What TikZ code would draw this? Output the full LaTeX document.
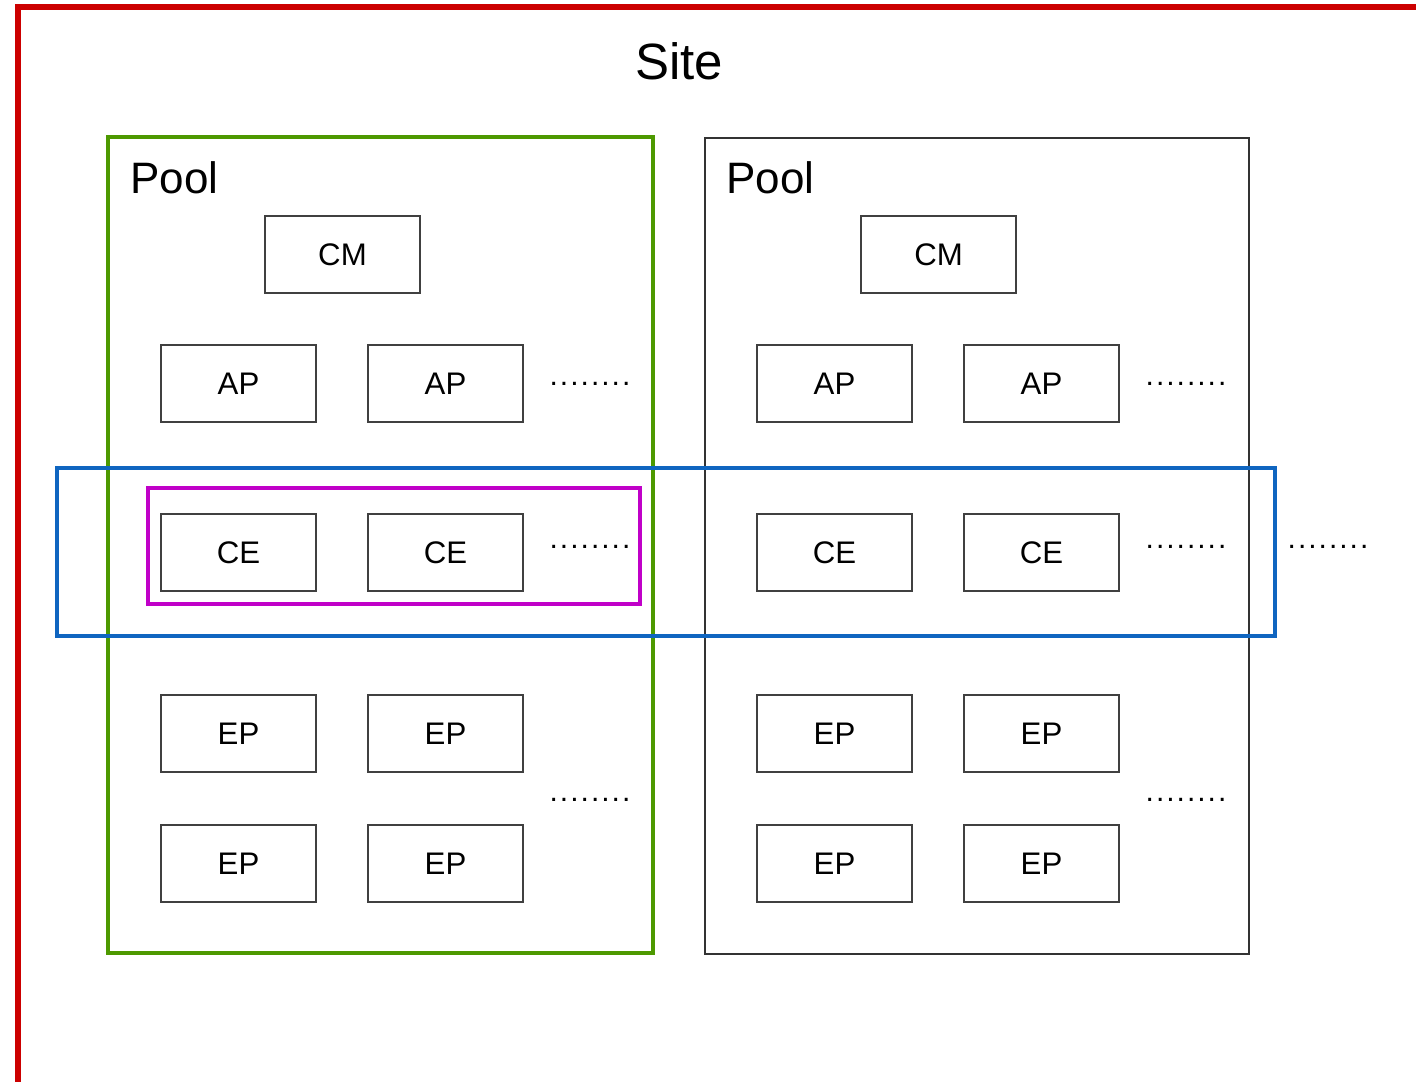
\documentclass[tikz,border=0pt]{standalone}
\usepackage{fontspec}
\setmainfont{Liberation Sans}
\definecolor{siteRed}{HTML}{CC0000}
\definecolor{poolGreen}{HTML}{4D9900}
\definecolor{bandBlue}{HTML}{0F65C0}
\definecolor{groupMag}{HTML}{C000C8}
\newcommand{\spacedots}{.\kern1pt.\kern1pt.\kern1pt.\kern1pt.\kern1pt.\kern1pt.\kern1pt.}
\tikzset{
  unitbox/.style={draw=black!75, line width=0.8pt, minimum width=77.5pt, minimum height=38.5pt,
    inner sep=0pt, font=\fontsize{15.6}{18}\selectfont},
  moredots/.style={font=\fontsize{15}{18}\selectfont, inner sep=0pt},
  poollabel/.style={anchor=west, inner sep=0pt, font=\fontsize{22}{26}\selectfont},
}
\begin{document}
\begin{tikzpicture}[x=0.5pt, y=-0.5pt]
\useasboundingbox (0,0) rectangle (1416,1081);
\fill[white] (0,0) rectangle (1416,1081);
% site frame, running past the right and lower edges
\draw[siteRed, line width=2.6pt] (18,7) rectangle (1440,1100);
\node[font=\fontsize{25.5}{30}\selectfont] (site) at (679,61) {Site};

% the two pools
\draw[poolGreen, line width=2.1pt] (108,137) rectangle (653,953);
\draw[black!80, line width=0.8pt] (705,138) rectangle (1249,954);
\node[poollabel] (pool1) at (130,178) {Pool};
\node[poollabel] (pool2) at (726,178) {Pool};

% band across both pools and the group inside the first pool
\draw[bandBlue, line width=1.6pt] (57,468) rectangle (1275,636);
\draw[groupMag, line width=1.6pt] (148,488) rectangle (640,604);

% units of the first pool
\node[unitbox] (cm1) at (342.5,254.5) {CM};
\node[unitbox] (ap11) at (238.5,383.5) {AP};
\node[unitbox] (ap12) at (445.5,383.5) {AP};
\node[unitbox] (ce11) at (238.5,552.5) {CE};
\node[unitbox] (ce12) at (445.5,552.5) {CE};
\node[unitbox] (ep11) at (238.5,733.5) {EP};
\node[unitbox] (ep12) at (445.5,733.5) {EP};
\node[unitbox] (ep13) at (238.5,863.5) {EP};
\node[unitbox] (ep14) at (445.5,863.5) {EP};

% units of the second pool
\node[unitbox] (cm2) at (938.5,254.5) {CM};
\node[unitbox] (ap21) at (834.5,383.5) {AP};
\node[unitbox] (ap22) at (1041.5,383.5) {AP};
\node[unitbox] (ce21) at (834.5,552.5) {CE};
\node[unitbox] (ce22) at (1041.5,552.5) {CE};
\node[unitbox] (ep21) at (834.5,733.5) {EP};
\node[unitbox] (ep22) at (1041.5,733.5) {EP};
\node[unitbox] (ep23) at (834.5,863.5) {EP};
\node[unitbox] (ep24) at (1041.5,863.5) {EP};

% ellipses for further units
\node[moredots] (d1) at (590,384) {\spacedots};
\node[moredots] (d2) at (590,547) {\spacedots};
\node[moredots] (d3) at (590,800) {\spacedots};
\node[moredots] (d4) at (1186,384) {\spacedots};
\node[moredots] (d5) at (1186,547) {\spacedots};
\node[moredots] (d6) at (1186,800) {\spacedots};
\node[moredots] (d7) at (1328,547) {\spacedots};
\end{tikzpicture}
\end{document}
